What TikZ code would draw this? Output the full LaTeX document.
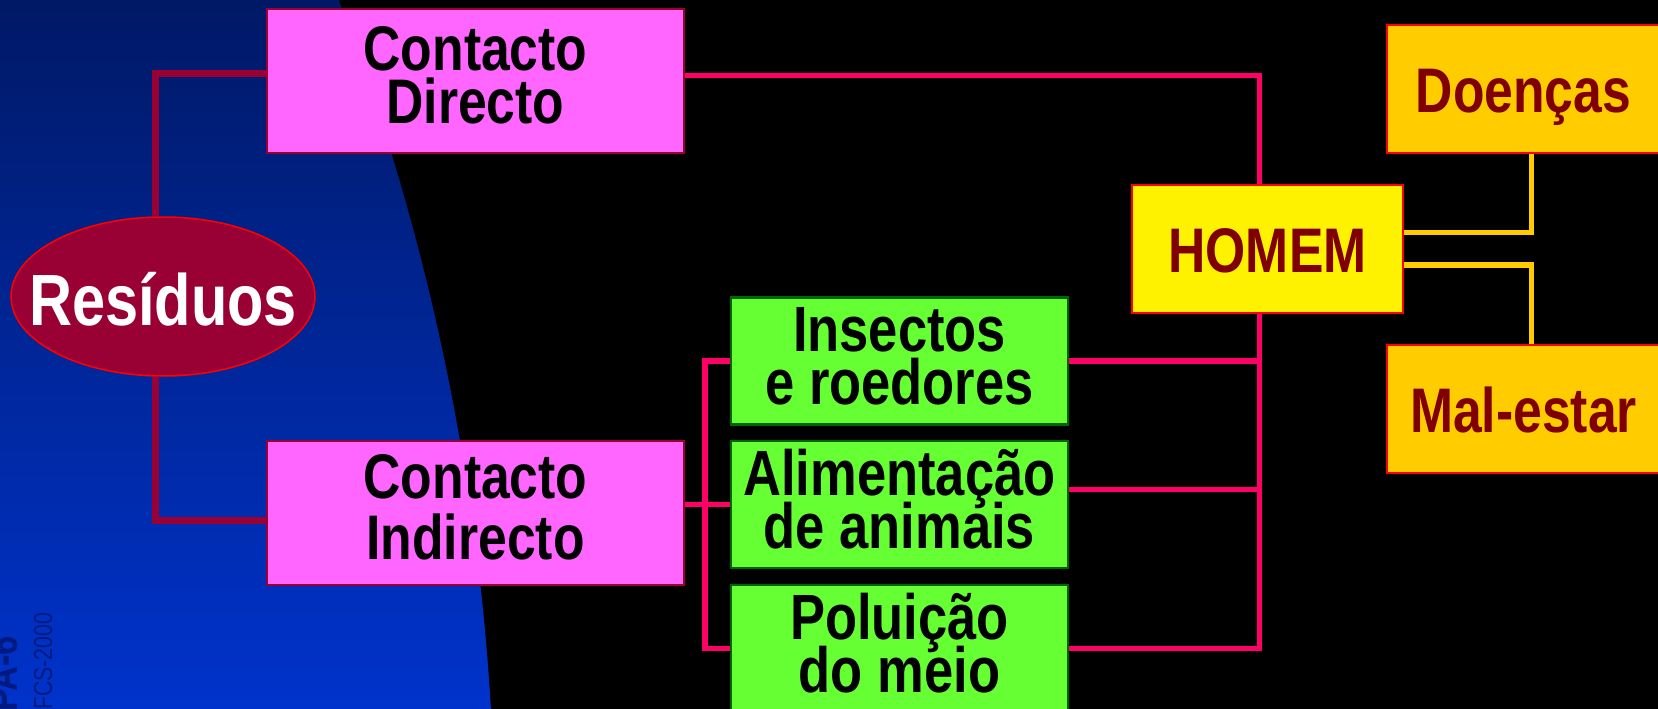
\documentclass[tikz,border=0pt]{standalone}
\usepackage{fontspec}
\setmainfont{Liberation Sans}[FakeStretch=0.82]
\usepackage{tikz}
\usetikzlibrary{calc,shapes.geometric}

\definecolor{wine}{HTML}{990033}
\definecolor{rosebox}{HTML}{FF66FF}
\definecolor{hotpink}{HTML}{FF0066}
\definecolor{limebox}{HTML}{66FF33}
\definecolor{leafline}{HTML}{006600}
\definecolor{amber}{HTML}{FFCC00}
\definecolor{brownred}{HTML}{800000}
\definecolor{skytop}{HTML}{001966}
\definecolor{skybot}{HTML}{0033CC}
\definecolor{inkblue}{HTML}{001A80}

\newcommand{\lowstrut}{\rule[-11pt]{0pt}{11pt}}
\setlength{\lineskiplimit}{-100pt}

\tikzset{
	contact/.style={draw=wine,line width=2pt,fill=rosebox,inner sep=0pt,minimum width=417pt,minimum height=144pt,align=center},
	route/.style={draw=leafline,line width=2.5pt,fill=limebox,inner sep=0pt,minimum width=337pt,minimum height=127pt,align=center,font=\bfseries\fontsize{64}{53}\selectfont},
	effect/.style={draw=red,line width=2pt,fill=amber,text=brownred,inner sep=0pt,minimum width=273pt,minimum height=127.7pt,text height=46pt,text depth=0pt,font=\bfseries\fontsize{63}{63}\selectfont},
	wineline/.style={wine,line width=7pt},
	pinkline/.style={hotpink,line width=5.5pt},
	amberline/.style={amber,line width=5.5pt}
}

\begin{document}
\begin{tikzpicture}[x=1pt,y=-1pt]
	\useasboundingbox (0,0) rectangle (1658,709);
	\fill[black] (0,0) rectangle (1658,709);
	\begin{scope}
	\clip (-1884,850) circle [radius=2379pt];
	\shade[top color=skytop,bottom color=skybot] (0,0) rectangle (520,709);
	\end{scope}
	\node[rotate=90,anchor=base west,inner sep=0pt,text=inkblue,font=\bfseries\fontsize{42}{42}\selectfont] (pa) at (17,712) {PA-6};
	\node[rotate=90,anchor=base west,inner sep=0pt,text=inkblue,font=\fontsize{26}{26}\selectfont] (fcs) at (52,710) {FCS-2000};
	\node[ellipse,draw=red,line width=1.5pt,fill=wine,text=white,inner xsep=-40pt,inner ysep=0pt,minimum width=304pt,minimum height=159pt,text height=57pt,text depth=0pt,font=\bfseries\fontsize{72.6}{72.6}\selectfont] (res) at (163,296.5) {Resíduos};
	\node[contact,font=\bfseries\fontsize{63}{53}\selectfont] (cd) at (475.5,81) {Contacto\\Directo\lowstrut};
	\node[contact,font=\bfseries\fontsize{63}{61}\selectfont] (ci) at (475.5,513) {Contacto\\Indirecto\lowstrut};
	\node[route] (ins) at (899.5,361) {Insectos\\e roedores\lowstrut};
	\node[route] (ali) at (899.5,504.5) {Alimentação\\de animais\lowstrut};
	\node[route] (pol) at (899.5,648.5) {Poluição\\do meio\lowstrut};
	\node[effect,fill=yellow,minimum width=271.6pt] (hom) at (1267.5,249) {HOMEM};
	\node[effect] (doe) at (1523.5,89) {Doenças};
	\node[effect] (mal) at (1523.5,409) {Mal-estar};
	\coordinate (split) at (705,504.5);
	\coordinate (bus) at ([xshift=-8pt]hom.south);
	\draw[wineline] ([xshift=-7.5pt]res.north) |- ([yshift=7.5pt]cd.west);
	\draw[wineline] ([xshift=-7.5pt]res.south) |- ([yshift=-7.5pt]ci.west);
	\draw[pinkline] ([yshift=5.5pt]cd.east) -| ([xshift=-8pt]hom.north);
	\draw[pinkline] (ci.east |- ali.west) -- (ali.west);
	\draw[pinkline] (ins.west) -| (split) |- (pol.west);
	\draw[pinkline] (ins.east) -- (ins.east -| bus);
	\draw[pinkline] ([yshift=15pt]ali.east) -- ([yshift=15pt]ali.east -| bus);
	\draw[pinkline] (bus) |- (pol.east);
	\draw[amberline] ([yshift=16.5pt]hom.east) -| ([xshift=8pt]doe.south);
	\draw[amberline] ([yshift=-16pt]hom.east) -| ([xshift=8pt]mal.north);
\end{tikzpicture}
\end{document}
